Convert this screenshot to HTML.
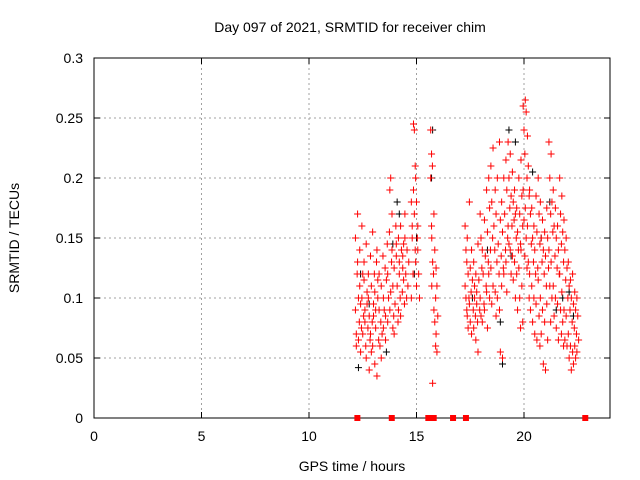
<!DOCTYPE html>
<html><head><meta charset="utf-8"><style>
body{margin:0;background:#fff}
svg{display:block;font-family:"Liberation Sans",sans-serif}
</style></head><body>
<svg id="chart" width="640" height="480">
<rect width="640" height="480" fill="#fff"/>
<text x="350" y="32" font-size="14" text-anchor="middle">Day 097 of 2021, SRMTID for receiver chim</text>
<text x="352" y="471" font-size="14" text-anchor="middle">GPS time / hours</text>
<text transform="translate(19,238) rotate(-90)" font-size="14" text-anchor="middle">SRMTID / TECUs</text>
<g id="grid"></g><g id="axes"></g><g id="marks"></g>
</svg>
<script>
const xTicks=[0,5,10,15,20];
const yTicks=[0,0.05,0.1,0.15,0.2,0.25,0.3];
const yTickLabels=["0","0.05","0.1","0.15","0.2","0.25","0.3"];
const groupHours=[12.2,12.3,12.4,12.5,12.6,12.7,12.8,12.9,13.0,13.1,13.2,13.3,13.4,13.5,13.6,13.7,13.8,13.9,14.0,14.1,14.2,14.3,14.4,14.5,14.6,14.8,14.9,15.0,15.1,15.7,15.75,15.85,15.95,17.3,17.4,17.5,17.6,17.7,17.8,17.9,18.0,18.1,18.2,18.3,18.4,18.5,18.6,18.7,18.8,18.9,19.0,19.1,19.2,19.3,19.4,19.5,19.6,19.7,19.8,19.9,20.0,20.1,20.2,20.3,20.4,20.5,20.6,20.7,20.8,20.9,21.0,21.1,21.2,21.3,21.4,21.5,21.6,21.7,21.8,21.9,22.0,22.1,22.2,22.3,22.4,22.5];
const groupValues=[
[0.09,0.07,0.12,0.15,0.06],[0.17,0.1,0.08,0.13,0.065],[0.11,0.095,0.075,0.14,0.055],[0.16,0.12,0.085,0.1,0.07],[0.13,0.09,0.06,0.115,0.08],
[0.145,0.105,0.075,0.05,0.095],[0.12,0.085,0.065,0.1,0.04],[0.135,0.11,0.08,0.07,0.055],[0.155,0.095,0.12,0.06,0.085],[0.105,0.075,0.13,0.045,0.09],
[0.14,0.1,0.065,0.035,0.115],[0.09,0.06,0.08,0.12],[0.11,0.07,0.135,0.05],[0.1,0.09,0.125,0.075],[0.085,0.115,0.145,0.065],[0.12,0.1,0.155,0.08],
[0.19,0.2,0.13,0.09,0.105],[0.17,0.11,0.085,0.14,0.075],[0.125,0.095,0.16,0.07],[0.145,0.11,0.08,0.135],[0.15,0.12,0.1,0.09,0.13],
[0.16,0.14,0.105,0.085],[0.135,0.115,0.095,0.125,0.145],[0.17,0.12,0.1,0.15],[0.14,0.11,0.13],[0.18,0.16,0.12,0.1,0.15],
[0.245,0.24,0.21,0.19,0.17,0.14],[0.2,0.18,0.15,0.13,0.11],[0.16,0.12,0.1,0.14],[0.24,0.22,0.21,0.2,0.16],[0.15,0.13,0.12,0.11,0.029],
[0.17,0.14,0.1,0.09,0.08,0.06],[0.125,0.11,0.085,0.07,0.055],[0.16,0.14,0.13,0.11,0.1,0.09],[0.15,0.12,0.1,0.085,0.075],[0.18,0.125,0.105,0.095,0.08],
[0.14,0.115,0.09,0.07],[0.13,0.1,0.085,0.075,0.11],[0.12,0.095,0.08,0.065,0.105],[0.145,0.115,0.09,0.055],[0.17,0.15,0.125,0.1,0.085],
[0.14,0.12,0.095,0.08],[0.165,0.135,0.11,0.09],[0.19,0.155,0.13,0.105,0.075],[0.2,0.175,0.14,0.12,0.1],[0.21,0.18,0.15,0.125,0.095],
[0.225,0.16,0.14,0.11],[0.19,0.17,0.13,0.105,0.085],[0.2,0.145,0.12,0.1],[0.23,0.165,0.135,0.09,0.055],[0.18,0.155,0.125,0.11,0.05],
[0.2,0.17,0.14,0.12],[0.215,0.19,0.15,0.13,0.105],[0.23,0.2,0.175,0.16,0.145],[0.22,0.185,0.16,0.14,0.12],[0.205,0.18,0.165,0.135,0.115],
[0.19,0.17,0.15,0.13,0.1],[0.175,0.155,0.14,0.12,0.09],[0.2,0.17,0.145,0.125,0.1,0.075],[0.215,0.185,0.16,0.14,0.11,0.08],
[0.26,0.24,0.22,0.19,0.165,0.135],[0.265,0.255,0.2,0.175,0.15,0.125],[0.235,0.21,0.185,0.16,0.13,0.1],[0.19,0.17,0.145,0.12,0.09],
[0.175,0.15,0.13,0.11,0.08],[0.16,0.14,0.12,0.1,0.07],[0.185,0.155,0.125,0.095,0.065],[0.2,0.17,0.145,0.115,0.085,0.06],
[0.18,0.15,0.13,0.1,0.07],[0.165,0.14,0.12,0.09,0.045],[0.155,0.135,0.11,0.08,0.04],[0.175,0.15,0.125,0.095,0.065],
[0.23,0.2,0.17,0.14,0.11,0.08],[0.22,0.18,0.155,0.13,0.1],[0.19,0.16,0.135,0.11,0.085],[0.175,0.15,0.125,0.1,0.075],
[0.16,0.14,0.12,0.095,0.065],[0.2,0.17,0.145,0.12,0.09,0.07],[0.185,0.155,0.13,0.105,0.08,0.06],[0.165,0.14,0.115,0.09,0.065],
[0.15,0.125,0.1,0.085,0.06],[0.13,0.11,0.09,0.07,0.05],[0.115,0.1,0.08,0.06,0.04],[0.12,0.095,0.075,0.055,0.045],
[0.105,0.09,0.07,0.06,0.05],[0.1,0.085,0.065,0.055]];
const blackHours=[12.3,12.4,13.9,14.1,14.2,13.6,15.7,15.75,15.0,19.0,19.3,19.6,19.4,20.4,21.2,21.8,22.3,18.9,20.8,17.6,18.3,21.5,22.1,14.9,12.8];
const blackValues=[0.042,0.12,0.145,0.18,0.17,0.055,0.2,0.24,0.15,0.045,0.24,0.23,0.135,0.205,0.18,0.1,0.085,0.08,0.15,0.1,0.14,0.09,0.105,0.12,0.095];
const zeroHours=[12.25,13.85,15.55,15.8,16.7,17.3,22.85];

const X0=94,X1=610,Y0=418,Y1=58,XMAX=24,YMAX=0.3;
const xs=h=>X0+(X1-X0)*h/XMAX;
const ys=v=>Y0-(Y0-Y1)*v/YMAX;
const NS="http://www.w3.org/2000/svg";
function mk(tag,attrs,parent){const e=document.createElementNS(NS,tag);for(const k in attrs)e.setAttribute(k,attrs[k]);parent.appendChild(e);return e;}
const grid=document.getElementById('grid'),axes=document.getElementById('axes'),marks=document.getElementById('marks');
xTicks.forEach((t,i)=>{
  const x=xs(t);
  if(i>0){const g=mk('line',{x1:x,x2:x,y1:Y1,y2:Y0,stroke:'#a0a0a0','stroke-dasharray':'2,3'},grid);
  
  }
  mk('line',{x1:x,x2:x,y1:Y0,y2:Y0-6,stroke:'#000'},axes);
  mk('line',{x1:x,x2:x,y1:Y1,y2:Y1+6,stroke:'#000'},axes);
  const l=mk('text',{x:x,y:Y0+23,'font-size':14,'text-anchor':'middle'},axes);
  l.textContent=String(t);
  
  
});
yTicks.forEach((t,i)=>{
  const y=ys(t);
  if(i>0&&i<yTicks.length-1){const g=mk('line',{x1:X0,x2:X1,y1:y,y2:y,stroke:'#a0a0a0','stroke-dasharray':'2,3'},grid);
  
  }
  mk('line',{x1:X0,x2:X0+6,y1:y,y2:y,stroke:'#000'},axes);
  mk('line',{x1:X1,x2:X1-6,y1:y,y2:y,stroke:'#000'},axes);
  const l=mk('text',{x:X0-11,y:y+5,'font-size':14,'text-anchor':'end'},axes);
  l.textContent=yTickLabels[i];
  
  
});
const frame=mk('rect',{x:X0,y:Y1,width:X1-X0,height:Y0-Y1,fill:'none',stroke:'#000'},axes);


function cross(h,v,color,name){
  const x=xs(h),y=ys(v);
  const p=mk('path',{d:`M${x-3.5},${y}h7M${x},${y-3.5}v7`,stroke:color,'stroke-width':1,fill:'none'},marks);
  
  
}
blackHours.forEach((h,i)=>cross(h,blackValues[i],'#000','srmtid-point-black'));
groupHours.forEach((h,i)=>groupValues[i].forEach((v,j)=>cross(h+((j%3)-1)*0.04,v,'#f00','srmtid-point')));
zeroHours.forEach(h=>{
  const r=mk('rect',{x:xs(h)-3,y:Y0-3,width:6,height:6,fill:'#f00'},marks);
  
  
});
</script>
</body></html>
